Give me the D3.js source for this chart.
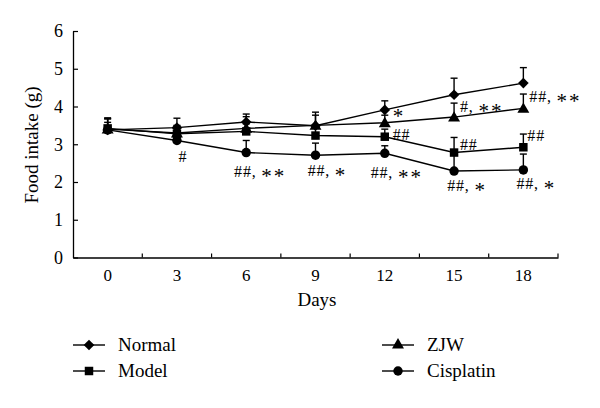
<!DOCTYPE html>
<html><head><meta charset="utf-8">
<script src="https://cdn.jsdelivr.net/npm/d3@7/dist/d3.min.js"></script>
<style>body{margin:0;background:#fff}svg{display:block}text{font-family:"Liberation Serif","Times New Roman",serif !important;fill:#000}</style>
</head><body><svg id="c" width="600" height="408"></svg>
<script>
const days = [0, 3, 6, 9, 12, 15, 18];
const yTicks = [0, 1, 2, 3, 4, 5, 6];
const normal = [3.38, 3.44, 3.59, 3.49, 3.91, 4.31, 4.62];
const normalErr = [0.32, 0.25, 0.21, 0.36, 0.24, 0.44, 0.41];
const model = [3.42, 3.28, 3.34, 3.23, 3.20, 2.78, 2.92];
const modelErr = [0.25, 0.2, 0.2, 0.2, 0.2, 0.40, 0.35];
const zjw = [3.40, 3.30, 3.42, 3.50, 3.57, 3.72, 3.95];
const zjwErr = [0.28, 0.2, 0.31, 0.27, 0.2, 0.37, 0.38];
const cisplatin = [3.38, 3.10, 2.78, 2.71, 2.76, 2.29, 2.32];
const cisplatinErr = [0.2, 0.15, 0.32, 0.32, 0.20, 0.5, 0.42];
const seriesNames = ["Normal", "Model", "ZJW", "Cisplatin"];
const annotations = [
  {day: 3, text: "#"}, {day: 6, text: "##, **"}, {day: 9, text: "##, *"},
  {day: 12, text: "##, **"}, {day: 15, text: "##, *"}, {day: 18, text: "##, *"},
  {day: 12, text: "*"}, {day: 12, text: "##"}, {day: 15, text: "#, **"},
  {day: 15, text: "##"}, {day: 18, text: "##, **"}, {day: 18, text: "##"}
];
// layout offsets for annotations (relative to the series point they belong to)
const annLayout = [
  {s:"Cisplatin", dx:6, dy:22, a:"middle"}, {s:"Cisplatin", dx:14, dy:24, a:"middle"},
  {s:"Cisplatin", dx:12, dy:21, a:"middle"}, {s:"Cisplatin", dx:12, dy:25, a:"middle"},
  {s:"Cisplatin", dx:13, dy:20, a:"middle"}, {s:"Cisplatin", dx:13, dy:19, a:"middle"},
  {s:"ZJW", dx:8, dy:-6, a:"start"}, {s:"ZJW", dx:8, dy:17, a:"start"},
  {s:"ZJW", dx:6, dy:-5, a:"start"}, {s:"Model", dx:6, dy:-3, a:"start"},
  {s:"ZJW", dx:6, dy:-6, a:"start"}, {s:"Model", dx:4, dy:-6, a:"start"}
];

const data = {Normal: [normal, normalErr, "diamond"], Model: [model, modelErr, "square"],
  ZJW: [zjw, zjwErr, "triangle"], Cisplatin: [cisplatin, cisplatinErr, "circle"]};

const FONT = "Liberation Serif";
const svg = d3.select("#c");
const L = 73, R = 558, T = 31, B = 257.5;
const x = d3.scaleBand().domain(days).range([L, R]);
const xc = d => x(d) + x.bandwidth() / 2;
const y = d3.scaleLinear().domain([0, 6]).range([B, T]);

// axes
const yAxis = svg.append("g").attr("transform", `translate(${L},0)`)
  .call(d3.axisLeft(y).tickValues(yTicks).tickFormat(d3.format("d")).tickSizeInner(-5).tickSizeOuter(0).tickPadding(10));
const xAxis = svg.append("g").attr("transform", `translate(0,${B})`)
  .call(d3.axisBottom(x).tickSize(0).tickSizeOuter(0).tickPadding(11));
[yAxis, xAxis].forEach(a => a.attr("font-family", FONT));
yAxis.selectAll("text").attr("font-size", 18);
xAxis.selectAll("text").attr("font-size", 17).attr("dy", "0.71em");
svg.selectAll(".domain").attr("stroke", "#000").attr("stroke-width", 1.3);
yAxis.selectAll(".tick line").attr("stroke", "#000").attr("stroke-width", 1.2);
// x ticks at band boundaries
svg.append("g").selectAll("line").data(days).join("line")
  .attr("x1", d => x(d) + x.bandwidth()).attr("x2", d => x(d) + x.bandwidth())
  .attr("y1", B).attr("y2", B - 4).attr("stroke", "#000").attr("stroke-width", 1.2);

svg.append("text").attr("x", 317).attr("y", 306).attr("text-anchor", "middle")
  .attr("font-family", FONT).attr("font-size", 19).text("Days");
svg.append("text").attr("transform", "translate(38,145) rotate(-90)").attr("text-anchor", "middle")
  .attr("font-family", FONT).attr("font-size", 19).text("Food intake (g)");

const sym = {diamond: d3.symbol(d3.symbolDiamond2, 72), square: d3.symbol(d3.symbolSquare, 72),
  triangle: d3.symbol(d3.symbolTriangle, 62), circle: d3.symbol(d3.symbolCircle, 70)};

const line = d3.line().x((d, i) => xc(days[i])).y(d => y(d));
seriesNames.forEach(name => {
  const [vals, errs, shape] = data[name];
  const g = svg.append("g");
  g.selectAll("line.e").data(vals).join("line")
    .attr("x1", (d, i) => xc(days[i])).attr("x2", (d, i) => xc(days[i]))
    .attr("y1", d => y(d)).attr("y2", (d, i) => y(d + errs[i]))
    .attr("stroke", "#000").attr("stroke-width", 1.4);
  g.selectAll("line.c").data(vals).join("line")
    .attr("x1", (d, i) => xc(days[i]) - 3.5).attr("x2", (d, i) => xc(days[i]) + 3.5)
    .attr("y1", (d, i) => y(d + errs[i])).attr("y2", (d, i) => y(d + errs[i]))
    .attr("stroke", "#000").attr("stroke-width", 1.4);
  g.append("path").datum(vals).attr("d", line).attr("fill", "none")
    .attr("stroke", "#000").attr("stroke-width", 1.4);
  g.selectAll("path.m").data(vals).join("path")
    .attr("transform", (d, i) => `translate(${xc(days[i])},${y(d) + (shape === "triangle" ? 1 : 0)})`)
    .attr("d", sym[shape]).attr("fill", "#000");
});

// annotations: "#" part normal, asterisks enlarged and lowered to mid-height
annotations.forEach((a, k) => {
  const lay = annLayout[k];
  const i = days.indexOf(a.day);
  const v = data[lay.s][0][i];
  const t = svg.append("text").attr("x", xc(a.day) + lay.dx).attr("y", y(v) + lay.dy)
    .attr("text-anchor", lay.a).attr("font-family", FONT).attr("font-size", 16)
    .attr("letter-spacing", 0.8);
  const idx = a.text.indexOf("*");
  const head = idx < 0 ? a.text : a.text.slice(0, idx);
  const stars = idx < 0 ? "" : a.text.slice(idx);
  if (head) t.append("tspan").text(head);
  if (stars) t.append("tspan").attr("font-size", 21).attr("dy", 6).attr("letter-spacing", 2).text(stars);
});

// legend
const legPos = [[73, 345], [73, 371], [382, 345], [382, 371]];
seriesNames.forEach((name, k) => {
  const [lx, ly] = legPos[k];
  const g = svg.append("g").attr("transform", `translate(${lx},${ly})`);
  g.append("line").attr("x1", 0).attr("x2", 32).attr("y1", 0).attr("y2", 0)
    .attr("stroke", "#000").attr("stroke-width", 1.4);
  g.append("path").attr("transform", "translate(16,0)").attr("d", sym[data[name][2]]).attr("fill", "#000");
  g.append("text").attr("x", 45).attr("y", 0).attr("dy", "0.33em")
    .attr("font-family", FONT).attr("font-size", 19).text(name);
});
</script></body></html>
